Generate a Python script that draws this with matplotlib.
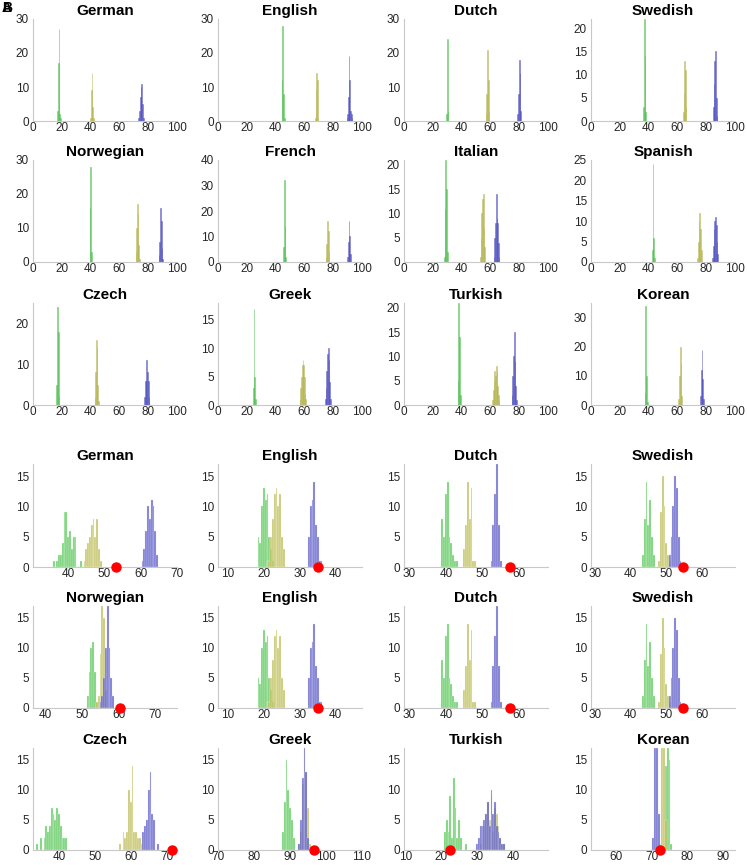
import matplotlib
matplotlib.use('Agg')
import matplotlib.pyplot as plt

plt.rcParams['font.family'] = ['Liberation Sans Narrow', 'Liberation Sans', 'DejaVu Sans']

BIN = 0.5

# ---------------- top panels (A) ----------------
top_names = ['German', 'English', 'Dutch', 'Swedish',
             'Norwegian', 'French', 'Italian', 'Spanish',
             'Czech', 'Greek', 'Turkish', 'Korean']
top_ymax = [30, 30, 30, 22, 30, 40, 21, 25, 25, 18, 21, 35]
top_ystep = [10, 10, 10, 5, 10, 10, 5, 5, 10, 5, 5, 10]

# (first bin centre, counts) per language
top_green = [(17.0, [3, 17, 27, 2, 1]), (44.5, [12, 28, 8, 1]), (29.5, [2, 24, 3]),
             (36.5, [3, 22, 14, 2]), (39.5, [16, 28, 3]), (45.5, [6, 32, 14, 2]),
             (28.0, [1, 11, 21, 15, 2]), (42.5, [3, 24, 6, 1]), (16.5, [5, 24, 18, 2]),
             (24.5, [3, 17, 5, 1]), (37.5, [5, 21, 14, 2]), (37.5, [4, 34, 10, 1])]
top_yellow = [(40.0, [1, 9, 14, 4, 1]), (67.5, [1, 9, 14, 12, 1]), (57.0, [2, 8, 21, 12, 3]),
              (64.0, [2, 6, 13, 11, 3]), (71.5, [3, 10, 17, 14, 5, 1]), (75.0, [2, 7, 16, 12, 4]),
              (53.0, [1, 5, 10, 13, 14, 7, 3]), (74.0, [1, 5, 10, 12, 8, 3]),
              (43.0, [2, 8, 16, 14, 5, 1]), (57.0, [1, 3, 5, 7, 8, 7, 5, 2, 1]),
              (61.5, [1, 3, 5, 7, 6, 8, 7, 4, 2, 1]), (61.0, [2, 10, 20, 14, 3])]
top_blue = [(73.5, [1, 3, 7, 10, 11, 5, 1]), (89.5, [1, 2, 7, 19, 12, 3, 2, 1]),
            (79.0, [2, 8, 18, 14, 3]), (85.0, [3, 8, 13, 15, 5, 1]),
            (87.5, [2, 6, 16, 12, 4, 1]), (90.0, [2, 8, 16, 10, 3]),
            (62.5, [1, 5, 8, 14, 9, 8, 4, 1]), (84.5, [1, 4, 8, 10, 11, 9, 5, 2]),
            (77.5, [2, 6, 6, 11, 8, 6, 2]), (74.5, [1, 3, 6, 9, 10, 8, 4, 1]),
            (75.0, [2, 6, 10, 15, 9, 4, 1]), (76.0, [3, 12, 19, 9, 2])]

# ---------------- bottom panels (B) ----------------
bot_names = ['German', 'English', 'Dutch', 'Swedish',
             'Norwegian', 'English', 'Dutch', 'Swedish',
             'Czech', 'Greek', 'Turkish', 'Korean']
bot_xlim = [(30.3, 70), (7.2, 47.3), (28.5, 68), (28.9, 69.3),
            (36.5, 76), (7.2, 47.3), (28.5, 68), (28.9, 69.3),
            (32.8, 72.9), (70, 110), (9.6, 49.8), (53, 93.4)]
bot_dot = [53.1, 35.0, 57.7, 54.8, 60.4, 35.0, 57.7, 54.8, 71.4, 96.6, 22.4, 72.3]

bot_green = [(36.0, [1, 0, 1, 2, 2, 4, 9, 9, 5, 6, 3, 5, 5, 0, 0, 1]),
             (18.5, [5, 4, 10, 13, 11, 12, 5, 3, 1]),
             (39.0, [8, 5, 12, 14, 5, 4, 2, 1, 1]),
             (43.5, [2, 8, 14, 7, 11, 5, 2]),
             (51.5, [2, 6, 10, 11, 6, 1]),
             (18.5, [5, 4, 10, 13, 11, 12, 5, 3, 1]),
             (39.0, [8, 5, 12, 14, 5, 4, 2, 1, 1]),
             (43.5, [2, 8, 14, 7, 11, 5, 2]),
             (34.0, [1, 0, 2, 0, 2, 4, 3, 4, 7, 6, 5, 7, 6, 4, 2, 2, 2]),
             (88.0, [3, 8, 15, 10, 7, 5, 2]),
             (21.0, [3, 5, 3, 9, 2, 12, 7, 2, 5, 2, 0, 0, 1]),
             (74.0, [14, 17, 15, 1])]
bot_yellow = [(44.5, [1, 3, 4, 5, 7, 8, 5, 8, 3, 1]),
              (21.0, [1, 1, 5, 8, 12, 13, 10, 12, 5, 3]),
              (45.0, [3, 7, 14, 8, 13, 1, 1]),
              (48.0, [1, 9, 15, 10, 4, 2, 1]),
              (54.0, [1, 2, 9, 17, 15, 3]),
              (21.0, [1, 1, 5, 8, 12, 13, 10, 12, 5, 3]),
              (45.0, [3, 7, 14, 8, 13, 1, 1]),
              (48.0, [1, 9, 15, 10, 4, 2, 1]),
              (57.0, [1, 0, 3, 2, 3, 10, 8, 14, 3, 3, 2, 2, 1]),
              (92.5, [1, 3, 11, 17, 13, 7, 1]),
              (31.0, [1, 2, 4, 6, 8, 5, 9, 3, 7, 6, 4, 2, 1, 1]),
              (72.5, [1, 17, 17, 5])]
bot_blue = [(60.5, [1, 3, 6, 10, 8, 11, 10, 6, 2]),
            (32.5, [5, 10, 11, 14, 7, 5, 1, 1]),
            (52.5, [1, 7, 12, 17, 7, 1]),
            (51.0, [2, 5, 10, 15, 13, 5, 1]),
            (55.0, [1, 2, 5, 10, 17, 10, 5, 2]),
            (32.5, [5, 10, 11, 14, 7, 5, 1, 1]),
            (52.5, [1, 7, 12, 17, 7, 1]),
            (51.0, [2, 5, 10, 15, 13, 5, 1]),
            (63.5, [3, 4, 5, 10, 13, 6, 5, 0, 1]),
            (92.5, [1, 5, 12, 17, 13, 2]),
            (30.0, [1, 2, 4, 4, 5, 6, 8, 4, 10, 6, 8, 4, 3, 2, 1, 1]),
            (70.5, [2, 17, 17, 6])]

GREEN = (0.30, 0.75, 0.30)
YELLOW = (0.70, 0.70, 0.30)
BLUE = (0.30, 0.30, 0.75)

W, H = 747, 865
col_left = [33, 218, 404, 591]
col_w = 144
top_rows = [(19, 121), (160, 262), (303, 405)]
bot_rows = [(464, 567), (606, 708), (748, 850)]

fig = plt.figure(figsize=(W / 100, H / 100), dpi=100)


def make_ax(x0, ytop, ybot):
    ax = fig.add_axes([x0 / W, 1 - ybot / H, col_w / W, (ybot - ytop) / H])
    for s in ['top', 'right']:
        ax.spines[s].set_visible(False)
    for s in ['left', 'bottom']:
        ax.spines[s].set_color('#c8c8c8')
        ax.spines[s].set_linewidth(0.8)
    ax.tick_params(length=0, labelsize=8.5, colors='#262626')
    ax.tick_params(axis='x', pad=1)
    ax.tick_params(axis='y', pad=3)
    return ax


def draw_hist(ax, series, color, alpha, edge, lw):
    start, counts = series
    xs = [start + i * BIN for i in range(len(counts))]
    ax.bar(xs, counts, width=BIN, color=color, alpha=alpha,
           edgecolor=edge, linewidth=lw, align='center')


for i in range(12):
    r, c = divmod(i, 4)
    ax = make_ax(col_left[c], *top_rows[r])
    draw_hist(ax, top_green[i], GREEN, 0.5, GREEN, 0.7)
    draw_hist(ax, top_yellow[i], YELLOW, 0.5, YELLOW, 0.7)
    draw_hist(ax, top_blue[i], BLUE, 0.5, BLUE, 0.7)
    ax.set_xlim(0, 100)
    ax.set_xticks(range(0, 101, 20))
    ax.set_ylim(0, top_ymax[i])
    ax.set_yticks(range(0, top_ymax[i] + 1, top_ystep[i]))
    ax.set_title(top_names[i], fontsize=11, fontweight='bold', pad=3)

for i in range(12):
    r, c = divmod(i, 4)
    ax = make_ax(col_left[c], *bot_rows[r])
    draw_hist(ax, bot_green[i], GREEN, 0.75, (0.85, 1.0, 0.85), 0.3)
    draw_hist(ax, bot_yellow[i], YELLOW, 0.75, (1.0, 1.0, 0.85), 0.3)
    draw_hist(ax, bot_blue[i], BLUE, 0.75, (0.85, 0.85, 1.0), 0.3)
    ax.plot([bot_dot[i]], [0], 'o', color='red', markersize=6.5, clip_on=False, zorder=10)
    ax.set_xticks(range(10, 121, 10))
    ax.set_xlim(*bot_xlim[i])
    ax.set_ylim(0, 17)
    ax.set_yticks([0, 5, 10, 15])
    ax.set_title(bot_names[i], fontsize=11, fontweight='bold', pad=3)

# panel letters (drawn on top of each other in the original)
fig.text(2 / W, 1 - 12 / H, 'A', fontsize=10, fontweight='bold')
fig.text(2 / W, 1 - 12 / H, 'B', fontsize=10, fontweight='bold')

fig.savefig('out.png', dpi=100)
